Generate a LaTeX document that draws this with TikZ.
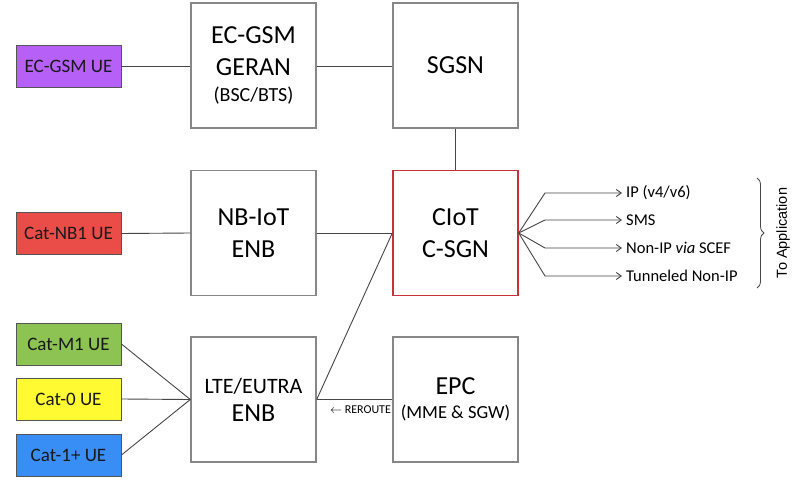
\documentclass[tikz,border=0pt]{standalone}
\usepackage{fontspec}
\setmainfont{Carlito}
\newfontfamily\arialfont{Liberation Sans}
\usetikzlibrary{arrows.meta,decorations.pathreplacing}
\definecolor{uepurple}{RGB}{182,96,248}
\definecolor{uered}{RGB}{234,76,72}
\definecolor{uegreen}{RGB}{140,195,82}
\definecolor{ueyellow}{RGB}{255,250,50}
\definecolor{ueblue}{RGB}{56,142,245}
\definecolor{uebord}{RGB}{85,85,85}
\definecolor{boxgray}{RGB}{135,135,135}
\definecolor{linegray}{RGB}{70,70,70}
\definecolor{cioted}{RGB}{200,50,60}
\begin{document}
\begin{tikzpicture}[x=1pt,y=-1pt,
  ue/.style={draw=uebord, line width=0.9pt, minimum width=105pt, minimum height=42pt, inner sep=0pt, font=\fontsize{19}{22}\selectfont, text=black!90},
  bigbox/.style={draw=boxgray, line width=1.4pt, minimum width=125pt, minimum height=125pt, inner sep=0pt, align=center, font=\fontsize{26}{32}\selectfont},
  link/.style={draw=linegray, line width=0.9pt},
  outarrow/.style={draw=linegray, line width=0.9pt, shorten >=4pt, -{Straight Barb[length=5pt,width=7pt]}},
  outlabel/.style={anchor=west, inner sep=0pt, font=\fontsize{16.5}{18}\selectfont},
]
\useasboundingbox (0,0) rectangle (802,489);
\fill[white] (0,0) rectangle (802,489);

% UE boxes
\node[ue, fill=uepurple] (ecue) at (68.5,66) {EC-GSM UE};
\node[ue, fill=uered] (nbue) at (68.5,233.5) {Cat-NB1 UE};
\node[ue, fill=uegreen] (m1ue) at (68.5,344) {Cat-M1 UE};
\node[ue, fill=ueyellow] (c0ue) at (68.5,399) {Cat-0 UE};
\node[ue, fill=ueblue] (c1ue) at (68.5,455) {Cat-1+ UE};

% main boxes
\node[bigbox] (geran) at (253.5,65.5) {EC-GSM\\GERAN\\[-6pt]{\fontsize{20}{24}\selectfont (BSC/BTS)}};
\node[bigbox] (sgsn) at (455.5,65.5) {SGSN};
\node[bigbox] (nbenb) at (253.5,233) {NB-IoT\\ENB};
\node[bigbox, draw=cioted] (ciot) at (455.5,233) {CIoT\\C-SGN};
\node[bigbox] (lte) at (253.5,399.5) {{\fontsize{22}{26}\selectfont LTE/EUTRA}\\[-4pt]ENB};
\node[bigbox] (epc) at (455.5,399.5) {EPC\\[-8pt]{\fontsize{18.5}{22}\selectfont (MME \& SGW)}};

% links
\draw[link] (ecue.east) -- (ecue.east -| geran.west);
\draw[link] (geran.east |- ecue.east) -- (sgsn.west |- ecue.east);
\draw[link] (sgsn.south) -- (ciot.north);
\draw[link] (nbue.east) -- (nbenb.west);
\draw[link] (nbenb.east) -- (ciot.west);
\draw[link] (m1ue.east) -- (lte.west);
\draw[link] (c0ue.east) -- (lte.west);
\draw[link] (c1ue.east) -- (lte.west);
\draw[link] (lte.east) -- (ciot.west);
\draw[link] (epc.west) -- node[below=6pt, xshift=6pt, inner sep=0pt, font=\fontsize{12}{14}\selectfont] {$\leftarrow$ REROUTE} (lte.east);

% outputs
\coordinate (fan) at (ciot.east);
\coordinate (b1) at (545,193);
\coordinate (b2) at (545,220);
\coordinate (b3) at (545,248);
\coordinate (b4) at (545,276);
\node[outlabel] (o1) at (626,193) {IP (v4/v6)};
\node[outlabel] (o2) at (626,220) {SMS};
\node[outlabel] (o3) at (626,248) {Non-IP \textit{via} SCEF};
\node[outlabel] (o4) at (626,276) {Tunneled Non-IP};
\draw[outarrow] (fan) -- (b1) -- (o1.west);
\draw[outarrow] (fan) -- (b2) -- (o2.west);
\draw[outarrow] (fan) -- (b3) -- (o3.west);
\draw[outarrow] (fan) -- (b4) -- (o4.west);

% brace
\coordinate (brtop) at (757,178);
\coordinate (brbot) at (757,288);
\draw[linegray, line width=0.8pt, decorate, decoration={brace, amplitude=7pt}] (brtop) -- (brbot);
\node[rotate=90, inner sep=0pt, font=\arialfont\fontsize{14.5}{16}\selectfont] (toapp) at (783,233) {To Application};
\end{tikzpicture}
\end{document}
